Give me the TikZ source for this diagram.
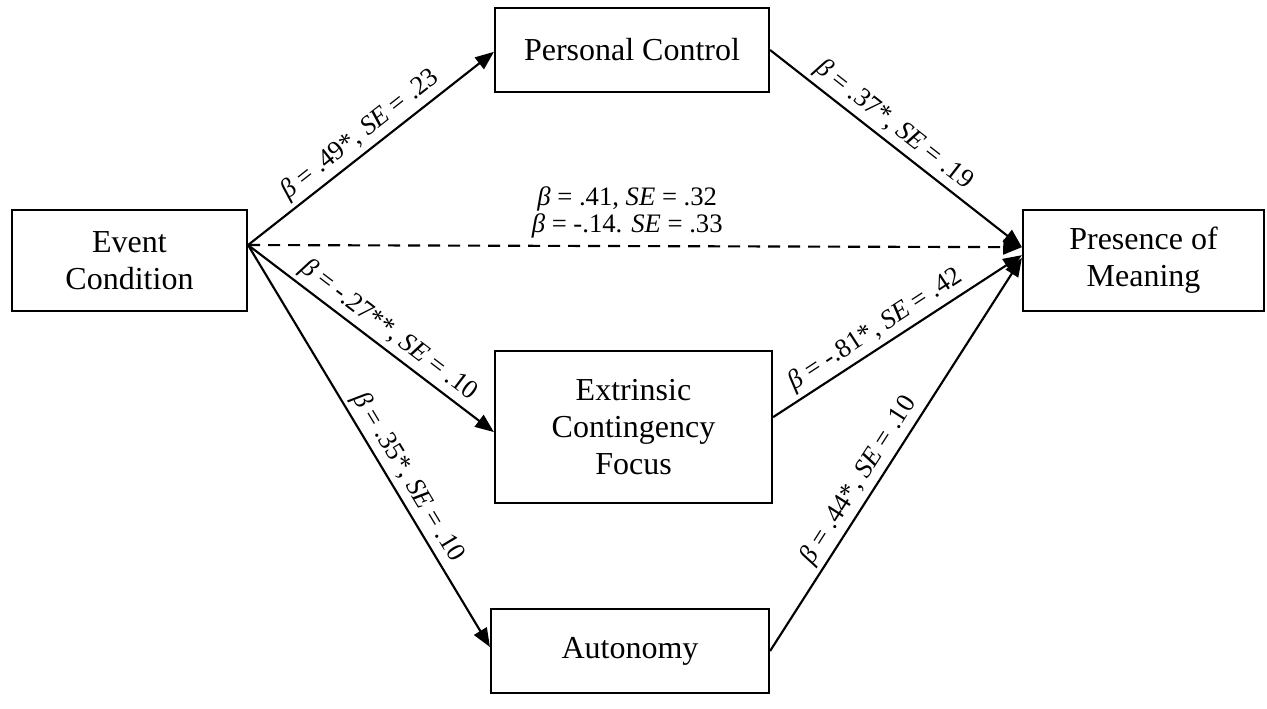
\documentclass[tikz,border=0pt]{standalone}
\usepackage{fontspec}
\setmainfont{Liberation Serif}
\usetikzlibrary{arrows.meta, positioning}
\tikzset{
  box/.style={rectangle, draw=black, line width=0.8pt, fill=white,
              inner sep=0pt, align=center,
              font=\fontsize{12}{13.9}\selectfont},
  arr/.style={-{Triangle[length=7pt, width=5.5pt]}, line width=0.8pt},
  lbl/.style={sloped, above, inner sep=1.5pt,
              font=\fontsize{10}{12}\selectfont},
}
\newcommand{\bt}{\textit{β}}
\newcommand{\se}{\textit{SE}}

\begin{document}
\begin{tikzpicture}[x=0.375pt, y=-0.375pt]
  \useasboundingbox (0,0) rectangle (1267,709);
  \node[box, minimum width=88.1pt, minimum height=37.9pt] (ec) at (129.5,260.5) {Event\\Condition};
  \node[box, minimum width=102.75pt, minimum height=31.5pt] (pc) at (632,50) {Personal Control};
  \node[box, minimum width=103.9pt, minimum height=57pt] (ex) at (633.5,427) {Extrinsic\\Contingency\\Focus};
  \node[box, minimum width=104.25pt, minimum height=31.5pt] (au) at (630,651) {Autonomy};
  \node[box, minimum width=90.4pt, minimum height=37.9pt] (pm) at (1143.5,260.5) {Presence of\\Meaning};
  % paths from event condition
  \draw[arr] ([yshift=5.8pt]ec.east) -- node[lbl, pos=0.5] {\bt{} = .49*, \se{} = .23} ([yshift=-0.7pt]pc.west);
  \draw[arr, dash pattern=on 4.5pt off 3pt] ([yshift=5.8pt]ec.east) -- node[above, pos=0.49, align=center, inner sep=2.5pt, font=\fontsize{10}{10.2}\selectfont] {\bt{} = .41, \se{} = .32\\\bt{} = -.14. \se{} = .33} ([yshift=5pt]pm.west);
  \draw[arr] ([yshift=5.8pt]ec.east) -- node[lbl, pos=0.53] {\bt{} = -.27**, \se{} = .10} ([yshift=-1.9pt]ex.west);
  \draw[arr] ([yshift=5.8pt]ec.east) -- node[lbl, pos=0.6] {\bt{} = .35*, \se{} = .10} ([yshift=1.5pt]au.west);
  % paths to presence of meaning
  \draw[arr] (pc.east) -- node[lbl, pos=0.45] {\bt{} = .37*, \se{} = .19} ([yshift=5pt]pm.west);
  \draw[arr] ([yshift=3.7pt]ex.east) -- node[lbl, pos=0.45] {\bt{} = -.81*, \se{} = .42} ([yshift=2pt]pm.west);
  \draw[arr] (au.east) -- node[lbl, pos=0.41] {\bt{} = .44*, \se{} = .10} ([yshift=1pt]pm.west);
\end{tikzpicture}
\end{document}
